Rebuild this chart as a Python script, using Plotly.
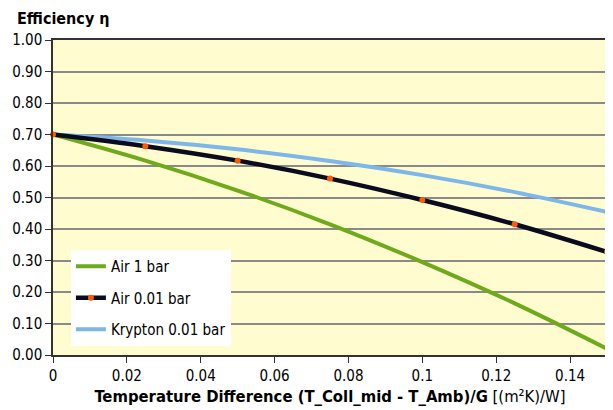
import plotly.graph_objects as go

x_vals = [0, 0.025, 0.05, 0.075, 0.1, 0.125, 0.15]
air_1bar = [0.70, 0.617, 0.522, 0.415, 0.295, 0.164, 0.02]
air_001bar = [0.70, 0.663, 0.617, 0.560, 0.492, 0.415, 0.327]
krypton_001bar = [0.70, 0.681, 0.653, 0.616, 0.571, 0.517, 0.454]

y_ticks = [0, 0.1, 0.2, 0.3, 0.4, 0.5, 0.6, 0.7, 0.8, 0.9, 1.0]
x_ticks = [0, 0.02, 0.04, 0.06, 0.08, 0.1, 0.12, 0.14]

font_family = "DejaVu Sans Condensed, DejaVu Sans, Verdana, sans-serif"

# page body has an 8px margin, so the figure is drawn at (8, 8)
W, H = 605, 402
ML, MT, MR, MB = 44, 32, 4, 55
PW, PH = W - ML - MR, H - MT - MB

fig = go.Figure()
fig.add_trace(go.Scatter(x=x_vals, y=air_1bar, mode="lines", name="Air 1 bar",
                         line=dict(color="#6EAA1C", width=4, shape="spline"),
                         legendgroup="a", legendrank=1))
fig.add_trace(go.Scatter(x=x_vals, y=krypton_001bar, mode="lines", name="Krypton 0.01 bar",
                         line=dict(color="#7DB7EA", width=4, shape="spline"),
                         legendgroup="c", legendrank=3))
fig.add_trace(go.Scatter(x=x_vals, y=air_001bar, mode="lines+markers", name="Air 0.01 bar",
                         line=dict(color="#0B0B1E", width=4.5, shape="spline"),
                         marker=dict(color="#FF5A00", size=6, line=dict(width=0)),
                         cliponaxis=False, legendgroup="b", legendrank=2))

fig.update_layout(
    width=W, height=H,
    margin=dict(l=ML, r=MR, t=MT, b=MB),
    paper_bgcolor="white",
    plot_bgcolor="#FFFCD0",
    font=dict(family=font_family, size=15, color="#000000"),
    showlegend=True,
    legend=dict(x=(62 - ML) / PW, y=1 - (242 - MT) / PH, xanchor="left", yanchor="top",
                bgcolor="white", borderwidth=0,
                font=dict(size=15, family=font_family),
                tracegroupgap=9),
    annotations=[dict(text="<b>Efficiency η</b>", xref="paper", yref="paper",
                      x=(6 - ML) / PW, y=1 + (MT + 1) / PH,
                      showarrow=False, xanchor="left", yanchor="top",
                      font=dict(size=16, family=font_family))],
)

fig.update_xaxes(range=[0, 0.15], tickvals=x_ticks, ticktext=[str(v) for v in x_ticks],
                 showgrid=False, zeroline=False, showline=True, linecolor="#333333",
                 linewidth=1.5, mirror=True, ticks="outside", ticklen=6, tickcolor="#333333",
                 tickfont=dict(size=15),
                 title=dict(text="<b>Temperature Difference (T_Coll_mid - T_Amb)/G</b> [(m²K)/W]",
                            font=dict(size=16.5), standoff=7))
fig.update_yaxes(range=[0, 1.0], tickvals=y_ticks, tickformat=".2f",
                 showgrid=True, gridcolor="#8A8A8A", gridwidth=1.5, zeroline=False,
                 showline=True, linecolor="#333333", linewidth=1.5, mirror=True,
                 ticks="outside", ticklen=6, tickcolor="#333333", tickfont=dict(size=15))

fig.write_html("out.html")
